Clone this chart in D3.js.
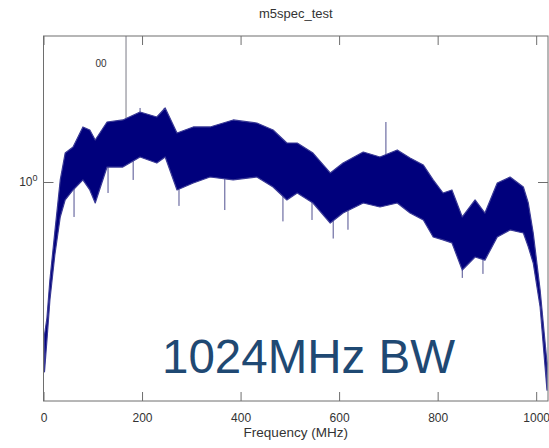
<!DOCTYPE html>
<html>
<head>
<meta charset="utf-8">
<script src="https://cdn.jsdelivr.net/npm/d3@7"></script>
<style>
  body { margin: 0; background: #fff; }
  text { font-family: "Liberation Sans", Arial, sans-serif; }
</style>
</head>
<body>
<div id="chart"></div>
<script>
// Spectrum envelope (MHz, upper and lower edge of the band)
var freqs = [2, 7, 13, 23, 34, 44, 60, 80, 94, 105, 129, 161, 196, 230, 247, 271, 304, 338, 385, 433,
  466, 494, 515, 547, 582, 608, 649, 683, 718, 744, 771, 791, 811, 829, 850, 876, 896, 921, 947, 974,
  984, 994, 1008, 1022];
var upper = [0.381, 0.424, 0.539, 0.730, 1.013, 1.20, 1.247, 1.415, 1.388, 1.303, 1.460, 1.479, 1.555, 1.507, 1.595, 1.362, 1.415, 1.415, 1.479, 1.451,
  1.388, 1.279, 1.279, 1.20, 1.059, 1.127, 1.208, 1.171, 1.224, 1.164, 1.113, 1.013, 0.933, 0.951, 0.802, 0.893, 0.822, 0.994, 1.032, 0.969,
  0.876, 0.725, 0.506, 0.319];
var lower = [0.302, 0.369, 0.475, 0.631, 0.802, 0.893, 0.951, 1.013, 0.951, 0.876, 1.099, 1.099, 1.171, 1.127, 1.171, 0.951, 0.994, 1.032, 1.013, 1.032,
  0.969, 0.893, 0.933, 0.876, 0.772, 0.822, 0.876, 0.854, 0.876, 0.822, 0.787, 0.707, 0.694, 0.681, 0.574, 0.623, 0.611, 0.707, 0.739, 0.725,
  0.664, 0.600, 0.455, 0.269];

// Single spikes sticking out of the band (MHz, peak value)
var spikeFreqs = [62, 131, 182, 196, 245, 275, 368, 387, 486, 545, 588, 618, 695, 850, 892];
var spikeVals = [0.802, 0.933, 1.013, 1.595, 1.595, 0.86, 0.838, 1.48, 0.78, 0.787, 0.70, 0.74, 1.46, 0.546, 0.56];
// the tall line near 167 MHz
var tallSpike = [167.5, 3.0];

var xTicks = [0, 200, 400, 600, 800, 1000];

var svgWidth = 549;
var svgHeight = 448;
var margin = { top: 36, right: 1, bottom: 47, left: 43.5 };
var chartWidth = svgWidth - margin.left - margin.right;
var chartHeight = svgHeight - margin.top - margin.bottom;

var svg = d3.select("#chart")
  .append("svg")
  .attr("width", svgWidth)
  .attr("height", svgHeight);

var chartGroup = svg.append("g")
  .attr("transform", `translate(${margin.left}, ${margin.top})`);

// Scales
var xScaler = d3.scaleLinear()
  .domain([0, 1024])
  .range([0, chartWidth]);

var yScaler = d3.scaleLog()
  .domain([Math.pow(10, -0.6), Math.pow(10, 0.4)])
  .range([chartHeight, 0]);

chartGroup.append("clipPath")
  .attr("id", "plotClip")
  .append("rect")
  .attr("width", chartWidth)
  .attr("height", chartHeight);

var plot = chartGroup.append("g").attr("clip-path", "url(#plotClip)");

var band = freqs.map(function(f, i) {
  return { f: f, hi: upper[i], lo: lower[i] };
});

// edge of the band at frequency f (upper or lower)
function bandEdge(f, key) {
  var i = d3.bisector(d => d.f).left(band, f);
  i = Math.max(1, Math.min(band.length - 1, i));
  var a = band[i - 1], b = band[i];
  var t = (f - a.f) / (b.f - a.f);
  return a[key] * (1 - t) + b[key] * t;
}

// spikes drawn first, from the band edge outward
plot.selectAll(".spike")
  .data(spikeFreqs)
  .enter()
  .append("line")
  .attr("class", "spike")
  .attr("x1", d => xScaler(d))
  .attr("x2", d => xScaler(d))
  .attr("y1", (d, i) => yScaler(bandEdge(d, spikeVals[i] > bandEdge(d, "hi") ? "hi" : "lo")))
  .attr("y2", (d, i) => yScaler(spikeVals[i]))
  .attr("stroke", "#505090")
  .attr("stroke-width", 1);

plot.append("line")
  .attr("x1", xScaler(tallSpike[0]))
  .attr("x2", xScaler(tallSpike[0]))
  .attr("y1", yScaler(bandEdge(tallSpike[0], "hi")))
  .attr("y2", yScaler(tallSpike[1]))
  .attr("stroke", "#7a7a86")
  .attr("stroke-width", 1);

// the noisy band as an area
var area = d3.area()
  .x(d => xScaler(d.f))
  .y0(d => yScaler(d.lo))
  .y1(d => yScaler(d.hi));

plot.append("path")
  .datum(band)
  .attr("d", area)
  .attr("fill", "#00007c")
  .attr("stroke", "#3a3a96")
  .attr("stroke-width", 1.2)
  .attr("stroke-linejoin", "round");

// Box
chartGroup.append("rect")
  .attr("width", chartWidth)
  .attr("height", chartHeight)
  .attr("fill", "none")
  .attr("stroke", "#6e6e6e")
  .attr("stroke-width", 1);

// Axes with inward ticks
var bottomAxis = d3.axisBottom(xScaler).tickValues(xTicks).tickSize(-9).tickPadding(12).tickFormat(d3.format("d"));
var topAxis = d3.axisTop(xScaler).tickValues(xTicks).tickSize(-9).tickFormat("");

var xAxisG = chartGroup.append("g")
  .attr("transform", `translate(0, ${chartHeight})`)
  .call(bottomAxis);
chartGroup.append("g").call(topAxis);

var leftAxis = d3.axisLeft(yScaler).tickValues([1]).tickSize(-10).tickFormat("");
var rightAxis = d3.axisRight(yScaler).tickValues([1]).tickSize(-10).tickFormat("");
chartGroup.append("g").call(leftAxis);
chartGroup.append("g").attr("transform", `translate(${chartWidth}, 0)`).call(rightAxis);

chartGroup.selectAll(".domain").remove();
chartGroup.selectAll(".tick line").attr("stroke", "#6e6e6e");
xAxisG.selectAll("text")
  .attr("font-size", "12px")
  .attr("fill", "#333");

// 10^0 label
var ylab = chartGroup.append("text")
  .attr("x", -6)
  .attr("y", yScaler(1) + 4)
  .attr("text-anchor", "end")
  .attr("font-size", "12px")
  .attr("fill", "#333");
ylab.append("tspan").text("10");
ylab.append("tspan").attr("dy", -5).attr("font-size", "9px").text("0");

// stray label near the top
chartGroup.append("text")
  .attr("x", 101 - margin.left)
  .attr("y", 63 - margin.top + 4)
  .attr("text-anchor", "middle")
  .attr("font-size", "10px")
  .attr("fill", "#333")
  .text("00");

// Title and axis label
svg.append("text")
  .attr("x", margin.left + chartWidth / 2)
  .attr("y", 18)
  .attr("text-anchor", "middle")
  .attr("font-size", "13px")
  .attr("fill", "#333")
  .text("m5spec_test");

svg.append("text")
  .attr("x", margin.left + chartWidth / 2)
  .attr("y", 437)
  .attr("text-anchor", "middle")
  .attr("font-size", "13.5px")
  .attr("fill", "#333")
  .text("Frequency (MHz)");

// Big annotation
svg.append("text")
  .attr("x", 162)
  .attr("y", 373)
  .attr("font-size", "47.5px")
  .attr("fill", "#1f4973")
  .text("1024MHz BW");
</script>
</body>
</html>
